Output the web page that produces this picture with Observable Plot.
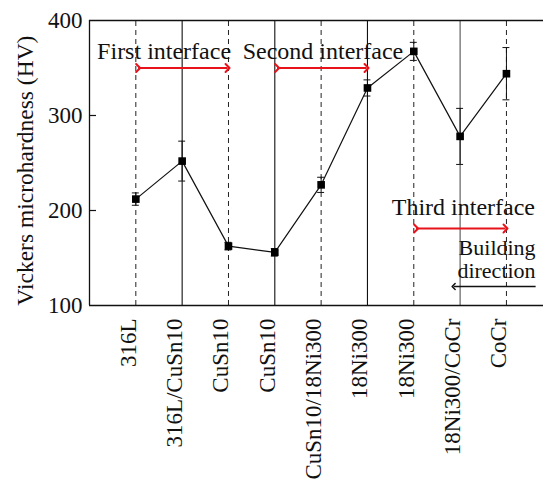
<!DOCTYPE html>
<html>
<head>
<meta charset="utf-8">
<script src="https://cdn.jsdelivr.net/npm/d3@7"></script>
<script src="https://cdn.jsdelivr.net/npm/@observablehq/plot@0.6"></script>
<style>
  html, body { margin: 0; padding: 0; background: #fff; }
</style>
</head>
<body>
<div id="chart"></div>
<script>
// Sample positions along the build, bottom to top
const positions = ["316L", "316L/CuSn10", "CuSn10", "CuSn10", "CuSn10/18Ni300", "18Ni300", "18Ni300", "18Ni300/CoCr", "CoCr"];
// Mean Vickers microhardness (HV) and its spread
const hardness = [212, 252, 162.5, 156, 227, 329, 367.5, 278, 344];
const spread = [6.5, 21, 4, 4, 8, 8.5, 9.5, 29.5, 27.5];
// Interface annotations: label, span (position indices), arrow level, label anchor
const interfaceNames = ["First interface", "Second interface", "Third interface"];
const interfaceFrom = [0, 3, 6];
const interfaceTo = [2, 5, 8];
const interfaceLevel = [350, 350, 181];
const interfaceLabelX = [0.61, 4.04, 7.07];
const interfaceLabelY = [368, 368, 203];
const yTicks = [100, 200, 300, 400];

const idx = positions.map((_, i) => i);
const points = idx.map(i => ({i, hv: hardness[i], lo: hardness[i] - spread[i], hi: hardness[i] + spread[i]}));
const spans = interfaceNames.map((name, k) => ({
  name, x1: interfaceFrom[k], x2: interfaceTo[k], y: interfaceLevel[k],
  lx: interfaceLabelX[k], ly: interfaceLabelY[k]
}));
const cap = 0.075;

const plot = Plot.plot({
  width: 543,
  height: 481,
  marginLeft: 89,
  marginRight: 0,
  marginTop: 20,
  marginBottom: 176,
  style: {fontFamily: "'Liberation Serif', 'Times New Roman', serif", background: "#fff", color: "#111"},
  x: {domain: [-1, 8.8], axis: null},
  y: {domain: [100, 400], axis: null},
  marks: [
    // guide lines at each sampled position: dashed inside a layer, solid at the joins
    Plot.ruleX(idx.filter(i => i % 2 === 0), {y1: 100, y2: 400, stroke: "#222", strokeWidth: 1, strokeDasharray: "5,4"}),
    Plot.ruleX(idx.filter(i => i % 2 === 1), {y1: 100, y2: 400, stroke: d => d === 7 ? "#555" : "#111", strokeWidth: 1.1}),
    // frame: left, top, bottom
    Plot.ruleX([-1], {y1: 100, y2: 400, stroke: "#111", strokeWidth: 1.3}),
    Plot.ruleY([100, 400], {stroke: "#111", strokeWidth: 1.3}),
    // inward y ticks
    Plot.axisY([200, 300], {tickSize: -7, text: null, stroke: "#111", strokeWidth: 1.2}),
    Plot.axisY(yTicks, {tickSize: 0, tickPadding: 7, fontSize: 23, fill: "#111"}),
    Plot.text(["Vickers microhardness (HV)"], {frameAnchor: "left", y: 242, dx: -64, rotate: -90, textAnchor: "middle", fontSize: 23.5, fill: "#111"}),
    // category labels under the axis
    Plot.text(idx, {x: d => d, text: d => positions[d], frameAnchor: "bottom", dy: 13, rotate: -90, textAnchor: "end", fontSize: 23, fill: "#111"}),
    // error bars
    Plot.ruleX(points, {x: "i", y1: "lo", y2: "hi", stroke: "#111", strokeWidth: 1}),
    Plot.ruleY(points, {y: "lo", x1: d => d.i - cap, x2: d => d.i + cap, stroke: "#111", strokeWidth: 1}),
    Plot.ruleY(points, {y: "hi", x1: d => d.i - cap, x2: d => d.i + cap, stroke: "#111", strokeWidth: 1}),
    // hardness profile
    Plot.line(points, {x: "i", y: "hv", stroke: "#111", strokeWidth: 1.2}),
    Plot.dot(points, {x: "i", y: "hv", symbol: "square", r: 4.3, fill: "#000"}),
    // interface spans
    Plot.link(spans, {x1: d => d.x1 + 0.05, x2: d => d.x2 - 0.02, y1: "y", y2: "y", stroke: "#e8121a", strokeWidth: 2, markerStart: "arrow", markerEnd: "arrow"}),
    Plot.text(spans, {x: "lx", y: "ly", text: "name", fontSize: 24, fill: "#111"}),
    // building direction
    Plot.text(["Building", "direction"], {x: 8.63, y: (d, k) => [160.5, 136][k], text: d => d, textAnchor: "end", fontSize: 22, fill: "#111"}),
    Plot.link([{x1: 8.63, x2: 6.86, y: 120}], {x1: "x1", x2: "x2", y1: "y", y2: "y", stroke: "#111", strokeWidth: 1.5, markerEnd: "arrow"})
  ]
});
document.getElementById("chart").appendChild(plot);
</script>
</body>
</html>
